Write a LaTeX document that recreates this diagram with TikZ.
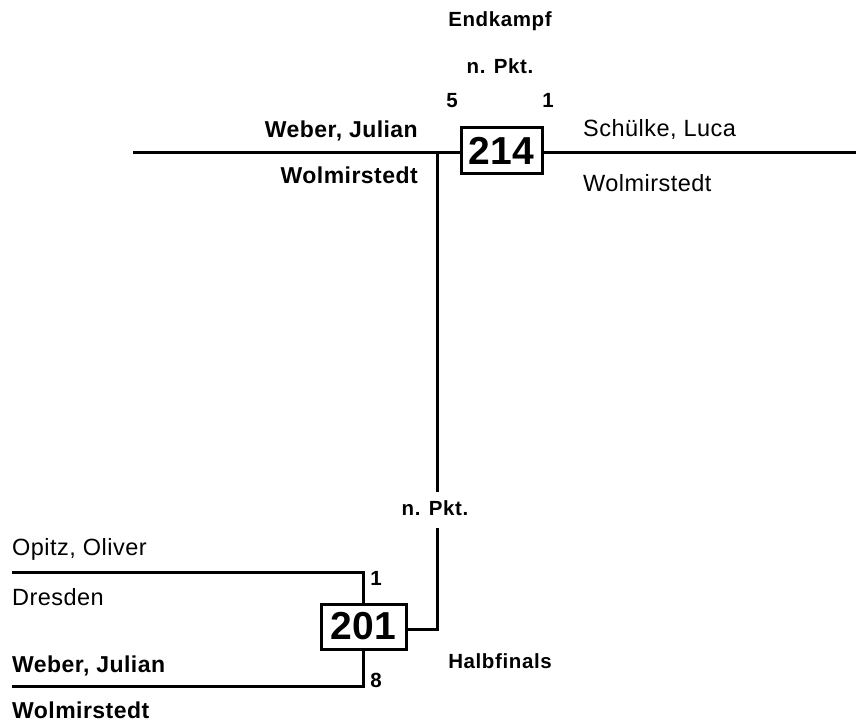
\documentclass[tikz,border=0pt]{standalone}
\usepackage{fontspec}
\setmainfont{Liberation Sans}
\newfontfamily\lsreg[LetterSpace=2]{Liberation Sans}
\newfontfamily\lsbold[LetterSpace=2]{Liberation Sans Bold}
\newfontfamily\lssmall[LetterSpace=3]{Liberation Sans Bold}
\newfontfamily\lsnum{Liberation Sans Bold}
\begin{document}
\begin{tikzpicture}[x=1pt,y=-1pt,
  line/.style={line width=3pt},
  matchbox/.style={draw,line width=3pt,inner sep=0pt,minimum height=46pt,
     font=\lsnum\fontsize{39}{44}\selectfont},
  regname/.style={inner sep=0pt,font=\lsreg\fontsize{23.5}{27}\selectfont},
  boldname/.style={inner sep=0pt,font=\lsbold\fontsize{23}{27}\selectfont},
  smalllab/.style={inner sep=0pt,font=\lssmall\fontsize{20.5}{24}\selectfont}]
\useasboundingbox (0,0) rectangle (856,722);

% top match
\node[matchbox,minimum width=81pt] (t214) at (501.5,151) {214};
\coordinate (L1) at (133,153);
\coordinate (R1) at (856,153);
\coordinate (J1) at (437,153);
\coordinate (V1) at (437,492);
\coordinate (V2) at (437,528);
\coordinate (V3) at (437,629);
\draw[line] (L1) -- (L1 -| t214.west);
\draw[line] (t214.east |- R1) -- (R1);
\draw[line] (J1) -- (V1);

\node[smalllab,anchor=base] (endk) at (500,27) {Endkampf};
\node[smalllab,anchor=base] (npkt1) at (500,74) {n. Pkt.};
\node[smalllab,anchor=base] (s5) at (452,108) {5};
\node[smalllab,anchor=base] (s1) at (548,108) {1};
\node[boldname,anchor=base east] (web1) at (418,138) {Weber, Julian};
\node[boldname,anchor=base east] (wol1) at (418,183) {Wolmirstedt};
\node[regname,anchor=base west] (sch) at (583,137) {Schülke, Luca};
\node[regname,anchor=base west] (wol2) at (583,192) {Wolmirstedt};

% semifinal
\node[matchbox,minimum width=85pt,minimum height=45pt] (t201) at (363.5,626.5) {201};
\coordinate (B1) at (12,572);
\coordinate (B2) at (12,686);
\draw[line] (B1) -- (B1 -| t201.north) -- (t201.north);
\draw[line] (t201.south) -- (t201.south |- B2) -- (B2);
\draw[line] (V2) -- (V3) -- (V3 -| t201.east);

\node[smalllab,anchor=base] (npkt2) at (435,515) {n. Pkt.};
\node[smalllab,anchor=base] (h1) at (376,585) {1};
\node[smalllab,anchor=base] (h8) at (376,687) {8};
\node[smalllab,anchor=base] (halb) at (500,668) {Halbfinals};
\node[regname,anchor=base west] (opitz) at (12,555) {Opitz, Oliver};
\node[regname,anchor=base west] (dres) at (12,605) {Dresden};
\node[boldname,anchor=base west] (web2) at (12,672) {Weber, Julian};
\node[boldname,anchor=base west] (wol3) at (12,718) {Wolmirstedt};
\end{tikzpicture}
\end{document}
